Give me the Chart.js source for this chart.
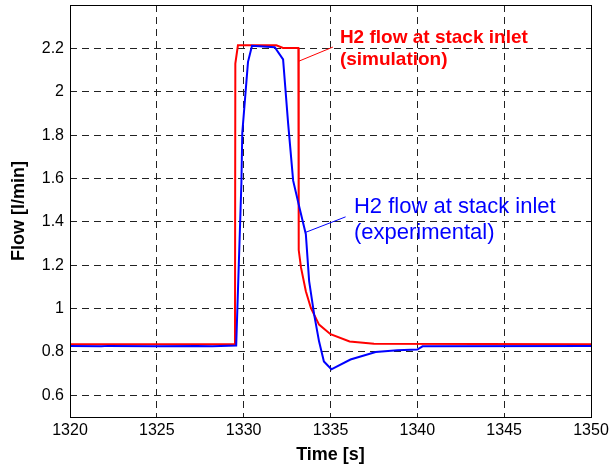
<!DOCTYPE html>
<html>
<head>
<meta charset="utf-8">
<title>H2 flow at stack inlet</title>
<script src="https://cdn.jsdelivr.net/npm/chart.js@4.4.1/dist/chart.umd.min.js"></script>
<style>
  html, body { margin: 0; padding: 0; background: #fff; }
  #wrap { position: relative; width: 612px; height: 472px; }
</style>
</head>
<body>
<div id="wrap"><canvas id="flowChart" width="612" height="472"></canvas></div>
<script>
// Simulation (red)
const simTime = [1320, 1329.5, 1329.52, 1329.67, 1331.88, 1332.27, 1333.15, 1333.17, 1333.3, 1333.58, 1333.87, 1334.34, 1335.0, 1336.1, 1337.5, 1350];
const simFlow = [0.835, 0.835, 2.13, 2.214, 2.214, 2.202, 2.202, 1.27, 1.19, 1.08, 1.003, 0.926, 0.882, 0.848, 0.838, 0.835];

// Experimental (blue)
const expTime = [1320, 1321.8, 1322.2, 1325, 1327.3, 1328.2, 1329.57, 1329.87, 1329.92, 1330.25, 1330.48, 1331.79, 1332.27, 1332.56, 1332.85, 1333.21, 1333.58, 1333.77, 1334.06, 1334.34, 1334.62, 1335.05, 1336.15, 1337.6, 1338.85, 1340.0, 1340.3, 1350];
const expFlow = [0.828, 0.826, 0.828, 0.826, 0.828, 0.826, 0.83, 1.58, 1.81, 2.138, 2.212, 2.205, 2.149, 1.854, 1.59, 1.466, 1.343, 1.127, 0.972, 0.849, 0.756, 0.72, 0.765, 0.80, 0.808, 0.811, 0.826, 0.828];

// Axes
const xTicks = [1320, 1325, 1330, 1335, 1340, 1345, 1350];
const yTicks = [0.6, 0.8, 1, 1.2, 1.4, 1.6, 1.8, 2, 2.2];

// Callout texts
const simLabel = ["H2 flow at stack inlet", "(simulation)"];
const expLabel = ["H2 flow at stack inlet", "(experimental)"];

const FONT = "'Liberation Sans', Arial, sans-serif";

// callouts placed in data units: text anchor + leader line
const callouts = [
  {
    lines: simLabel, x: 1335.54, y: 2.2475, lineHeight: 22,
    font: "bold 19px " + FONT, color: "#ff0000",
    from: [1333.15, 2.14], to: [1335.14, 2.206],
  },
  {
    lines: expLabel, x: 1336.35, y: 1.469, lineHeight: 26,
    font: "22px " + FONT, color: "#0000ff",
    from: [1333.55, 1.351], to: [1335.87, 1.423],
  },
];

const toPoints = (xs, ys) => xs.map((x, i) => ({ x, y: ys[i] }));
const fmt = (v) => String(Math.round(v * 10) / 10);

// box around the plot + callouts
const decorPlugin = {
  id: "decor",
  afterDatasetsDraw(chart) {
    const { ctx, chartArea, scales } = chart;
    ctx.save();
    ctx.strokeStyle = "#000";
    ctx.lineWidth = 1;
    ctx.setLineDash([]);
    ctx.strokeRect(chartArea.left + 0.5, chartArea.top + 0.5,
      chartArea.right - chartArea.left, chartArea.bottom - chartArea.top);

    callouts.forEach((c) => {
      ctx.strokeStyle = c.color;
      ctx.lineWidth = 1;
      ctx.beginPath();
      ctx.moveTo(scales.x.getPixelForValue(c.from[0]), scales.y.getPixelForValue(c.from[1]));
      ctx.lineTo(scales.x.getPixelForValue(c.to[0]), scales.y.getPixelForValue(c.to[1]));
      ctx.stroke();

      ctx.fillStyle = c.color;
      ctx.font = c.font;
      ctx.textAlign = "left";
      ctx.textBaseline = "middle";
      const px = scales.x.getPixelForValue(c.x);
      const py = scales.y.getPixelForValue(c.y);
      c.lines.forEach((line, i) => ctx.fillText(line, px, py + i * c.lineHeight));
    });
    ctx.restore();
  },
};

const gridStyle = {
  color: "#222",
  lineWidth: 1,
  drawTicks: false,
};

new Chart(document.getElementById("flowChart"), {
  type: "scatter",
  data: {
    datasets: [
      {
        label: "H2 flow at stack inlet (experimental)",
        data: toPoints(expTime, expFlow),
        showLine: true,
        borderColor: "#0000ff",
        borderWidth: 2,
        pointRadius: 0,
        tension: 0,
      },
      {
        label: "H2 flow at stack inlet (simulation)",
        data: toPoints(simTime, simFlow),
        showLine: true,
        borderColor: "#ff0000",
        borderWidth: 2,
        pointRadius: 0,
        tension: 0,
      },
    ],
  },
  options: {
    responsive: false,
    animation: false,
    devicePixelRatio: 1,
    layout: { padding: { left: 0, right: 21, top: 5, bottom: 0 } },
    plugins: { legend: { display: false }, tooltip: { enabled: false } },
    scales: {
      x: {
        type: "linear",
        min: 1320,
        max: 1350,
        afterBuildTicks: (scale) => { scale.ticks = xTicks.map((v) => ({ value: v })); },
        afterFit: (scale) => {
          scale.height = 55;
          scale.paddingLeft = 0;
          scale.paddingRight = 0;
        },
        grid: { ...gridStyle },
        border: { display: false, dash: [7, 5] },
        ticks: { color: "#000", font: { family: FONT, size: 16 }, padding: 4, maxRotation: 0, callback: (v) => String(v) },
        title: {
          display: true,
          text: "Time [s]",
          color: "#000",
          font: { family: FONT, size: 18, weight: "bold" },
          padding: { top: 0, bottom: 6 },
        },
      },
      y: {
        min: 0.5,
        max: 2.4,
        afterBuildTicks: (scale) => { scale.ticks = yTicks.map((v) => ({ value: v })); },
        afterFit: (scale) => {
          scale.width = 70;
          scale.paddingTop = 0;
          scale.paddingBottom = 0;
        },
        grid: { ...gridStyle },
        border: { display: false, dash: [7, 5] },
        ticks: { color: "#000", font: { family: FONT, size: 16 }, padding: 6, callback: fmt },
        title: {
          display: true,
          text: "Flow [l/min]",
          color: "#000",
          font: { family: FONT, size: 18, weight: "bold" },
          padding: { top: 8, bottom: 0 },
        },
      },
    },
  },
  plugins: [decorPlugin],
});
</script>
</body>
</html>
